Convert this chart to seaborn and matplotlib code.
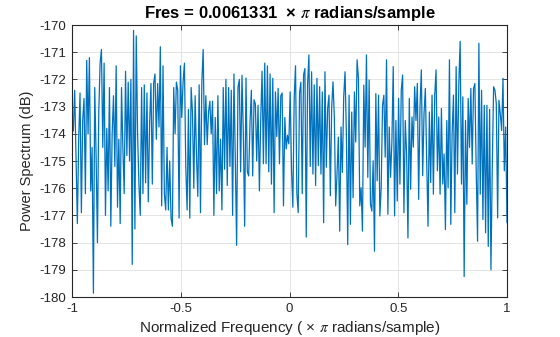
import numpy as np
import pandas as pd
import matplotlib
matplotlib.use("Agg")
import matplotlib.pyplot as plt
import seaborn as sns

# Power spectrum values (dB), left to right
seg1 = [-173.6, -173.9, -172.4, -174.8, -177.3, -174.2, -172.5, -176.9, -173.5, -172.7,
        -176.2, -171.3, -174.0, -171.2, -176.1, -174.5, -179.86, -172.3, -174.8, -178.0,
        -173.2, -171.4, -170.9, -174.5, -171.4, -177.0, -173.8, -176.1, -172.3, -177.4,
        -174.0, -172.6, -175.2, -171.5, -176.7]
seg2 = [-174.2, -177.3, -172.3, -174.5, -176.2, -171.7, -174.8, -172.1, -175.0, -172.0,
        -178.8, -170.2, -177.5, -170.4, -174.0, -175.85, -177.0, -172.3, -176.2, -172.2,
        -175.8, -172.5, -176.5, -173.6, -172.15, -175.85, -172.15, -171.8, -174.2, -172.15,
        -173.75, -170.8, -176.65, -171.5, -176.2, -176.8]
seg3 = [-174.5, -176.8, -175.0, -177.1, -177.4, -172.3, -174.0, -172.1, -172.4, -177.1,
        -171.5, -173.4, -172.1, -171.4, -175.2, -176.8, -173.1, -177.1, -172.3, -173.2,
        -176.0, -172.6, -174.8, -176.3, -172.2, -176.9, -172.1, -170.9, -174.4, -172.6,
        -174.4, -173.2, -172.8, -174.0, -172.8, -177.0]
seg4 = [-173.4, -176.2, -172.6, -176.1, -174.2, -176.8, -172.3, -175.3, -172.0, -175.9,
        -172.3, -175.2, -172.4, -177.0, -171.8, -175.05, -178.1, -172.3, -172.0, -175.4,
        -171.85, -174.0, -177.4, -171.95, -175.4, -175.55, -173.6, -172.4, -175.55, -172.75,
        -172.9, -175.0, -172.95, -176.1, -173.5, -171.7]
seg5 = [-175.1, -171.4, -175.1, -171.5, -175.4, -171.8, -175.85, -171.96, -176.9, -172.46,
        -174.1, -172.33, -175.1, -172.6, -172.5, -176.65, -173.4, -174.56, -174.06, -174.37,
        -172.46, -175.3, -176.7, -172.7, -171.5, -176.2, -176.9, -172.5, -172.1, -176.2,
        -171.84, -171.6, -177.8, -172.2, -171.1, -175.2]
seg6 = [-171.72, -175.48, -172.2, -175.9, -171.96, -175.17, -172.27, -175.48, -172.46, -177.27,
        -171.72, -175.23, -173.07, -172.58, -176.28, -173.07, -172.09, -173.38, -176.65, -175.48,
        -174.12, -177.58, -173.75, -175.42, -172.64, -171.72, -174.0, -178.07, -172.58, -177.33,
        -173.2, -176.35, -172.46, -174.3, -171.28, -171.96]
seg7 = [-176.65, -175.98, -177.58, -172.21, -174.49, -171.1, -175.6, -172.02, -176.59, -176.84,
        -174.99, -178.32, -172.52, -175.73, -172.58, -177.02, -175.98, -172.95, -172.58, -174.86,
        -171.28, -176.96, -173.75, -175.6, -174.31, -171.53, -177.02, -173.51, -176.47, -172.7,
        -175.85, -172.4, -171.84, -176.9, -173.51, -174.74]
seg8 = [-177.83, -172.7, -176.04, -173.38, -174.49, -172.27, -173.51, -172.15, -176.41, -173.0,
        -171.65, -175.54, -173.26, -172.33, -175.0, -177.4, -173.2, -175.79, -172.58, -176.22,
        -172.58, -171.65, -175.36, -173.38, -176.22, -173.07, -175.85, -174.74, -177.52, -173.51,
        -175.98, -171.28, -177.33, -173.99, -172.58, -176.9]
seg9 = [-171.53, -175.48, -172.15, -170.6, -175.85, -172.64, -179.25, -173.51, -176.59, -172.7,
        -174.5, -172.33, -175.11, -172.33, -172.15, -175.36, -177.95, -170.67, -176.22, -172.4,
        -177.15, -172.95, -177.64, -172.95, -178.14, -173.1, -179.0, -175.23, -172.27, -172.4,
        -172.89, -177.09, -172.77, -173.26, -173.88, -171.96, -175.36, -173.75, -177.27]

power_db = seg1 + seg2 + seg3 + seg4 + seg5 + seg6 + seg7 + seg8 + seg9
x_ticks = [-1, -0.5, 0, 0.5, 1]
x_tick_labels = ["-1", "-0.5", "0", "0.5", "1"]
y_ticks = list(range(-180, -169))
y_tick_labels = [str(v) for v in y_ticks]

title_text = "Fres = 0.0061331  × $\\pi$ radians/sample"
xlabel_text = "Normalized Frequency ( × $\\pi$ radians/sample)"
ylabel_text = "Power Spectrum (dB)"

n = len(power_db)
freq = np.linspace(-1, 1, n)
df = pd.DataFrame({"freq": freq, "power": power_db})

sns.set_theme(style="whitegrid")
plt.rcParams["font.family"] = ["Liberation Sans", "DejaVu Sans"]
plt.rcParams["mathtext.fontset"] = "stix"
plt.rcParams["axes.unicode_minus"] = False

fig = plt.figure(figsize=(5.6, 3.37), dpi=100)
ax = fig.add_axes([72 / 560, 1 - 297 / 337, 435 / 560, 272 / 337])

sns.lineplot(data=df, x="freq", y="power", ax=ax, color="#0072BD",
             linewidth=0.9, sort=False, estimator=None)

ax.set_xlim(-1, 1)
ax.set_ylim(-180, -170)
ax.set_xticks(x_ticks)
ax.set_xticklabels(x_tick_labels)
ax.set_yticks(y_ticks)
ax.set_yticklabels(y_tick_labels)

ax.grid(True, color="#DFDFDF", linewidth=0.6)
ax.set_facecolor("white")
for side in ["left", "right", "top", "bottom"]:
    ax.spines[side].set_visible(True)
    ax.spines[side].set_color("#262626")
    ax.spines[side].set_linewidth(0.8)

ax.tick_params(axis="both", which="both", direction="in", length=3.5, width=0.6,
               color="#262626", labelcolor="#262626", labelsize=9.5,
               top=True, right=True, bottom=True, left=True, pad=4)

ax.set_title(title_text, fontsize=12, fontweight="bold", color="black", pad=5)
ax.set_xlabel(xlabel_text, fontsize=11, color="#262626", labelpad=3)
ax.set_ylabel(ylabel_text, fontsize=10.5, color="#262626", labelpad=4)

fig.savefig("out.png", dpi=100, facecolor="white")
